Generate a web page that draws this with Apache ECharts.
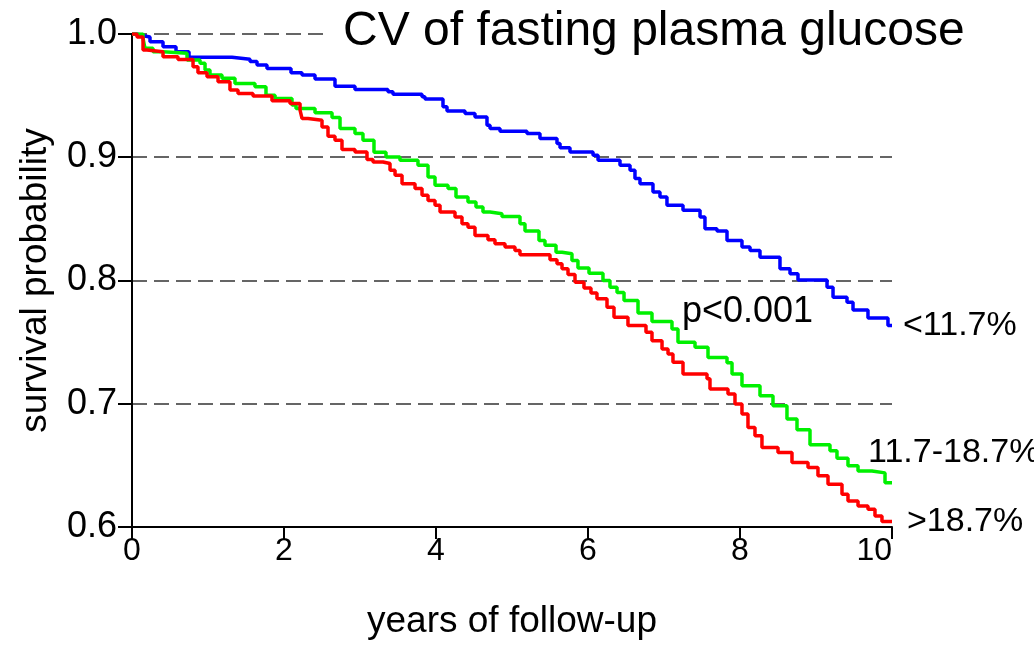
<!DOCTYPE html>
<html>
<head>
<meta charset="utf-8">
<script src="https://cdn.jsdelivr.net/npm/echarts@6/dist/echarts.min.js"></script>
<style>
  html, body { margin: 0; padding: 0; background: #fff; }
  #chart { width: 1034px; height: 645px; }
</style>
</head>
<body>
<div id="chart"></div>
<script>
// ---- data ----
const xTicks = [0, 2, 4, 6, 8, 10];
const yTicks = [0.6, 0.7, 0.8, 0.9, 1.0];
const groupNames = ['<11.7%', '11.7-18.7%', '>18.7%'];
const titleText = 'CV of fasting plasma glucose';
const pText = 'p<0.001';
const xName = 'years of follow-up';
const yName = 'survival probability';

const timeLow = [0, 0.066, 0.132, 0.237, 0.408, 0.579, 0.750, 1.316, 1.553, 1.645, 1.776, 2.092, 2.237, 2.408, 2.671, 2.934, 3.368, 3.434, 3.816, 3.855, 4.092, 4.145, 4.382, 4.513, 4.671, 4.711, 4.842, 5.197, 5.368, 5.592, 5.632, 5.763, 6.066, 6.132, 6.421, 6.553, 6.618, 6.684, 6.855, 6.947, 7.039, 7.250, 7.474, 7.539, 7.697, 7.829, 8.026, 8.132, 8.263, 8.526, 8.658, 8.763, 9.145, 9.224, 9.408, 9.487, 9.684, 9.947, 10.0];
const survLow = [1.000, 0.9988, 0.9976, 0.9938, 0.9897, 0.9856, 0.9811, 0.9795, 0.9776, 0.9748, 0.9721, 0.9685, 0.9667, 0.9634, 0.9577, 0.9550, 0.9531, 0.9512, 0.9490, 0.9472, 0.9409, 0.9376, 0.9355, 0.9327, 0.9260, 0.9233, 0.9211, 0.9192, 0.9152, 0.9111, 0.9078, 0.9043, 0.9016, 0.8976, 0.8935, 0.8894, 0.8827, 0.8786, 0.8718, 0.8677, 0.8610, 0.8569, 0.8515, 0.8420, 0.8401, 0.8325, 0.8271, 0.8244, 0.8189, 0.8095, 0.8054, 0.8005, 0.7945, 0.7864, 0.7823, 0.7761, 0.7696, 0.7634, 0.7634];

const timeMid = [0, 0.145, 0.171, 0.276, 0.408, 0.724, 0.895, 0.961, 1.026, 1.184, 1.355, 1.618, 1.763, 1.882, 2.105, 2.158, 2.408, 2.632, 2.737, 2.934, 3.039, 3.184, 3.342, 3.526, 3.763, 3.895, 3.987, 4.158, 4.263, 4.421, 4.526, 4.618, 4.711, 4.868, 5.105, 5.171, 5.355, 5.434, 5.579, 5.658, 5.789, 5.868, 6.013, 6.197, 6.289, 6.382, 6.474, 6.658, 6.842, 7.105, 7.184, 7.408, 7.579, 7.829, 7.895, 8.026, 8.263, 8.434, 8.618, 8.750, 8.921, 9.184, 9.276, 9.421, 9.553, 9.737, 9.908, 10.0];
const survMid = [1.000, 0.9965, 0.9884, 0.9856, 0.9843, 0.9789, 0.9762, 0.9707, 0.9667, 0.9640, 0.9599, 0.9572, 0.9504, 0.9477, 0.9423, 0.9396, 0.9362, 0.9323, 0.9233, 0.9193, 0.9138, 0.9041, 0.9002, 0.8976, 0.8935, 0.8840, 0.8772, 0.8746, 0.8677, 0.8637, 0.8596, 0.8555, 0.8542, 0.8520, 0.8461, 0.8401, 0.8325, 0.8285, 0.8230, 0.8217, 0.8163, 0.8102, 0.8059, 0.8000, 0.7946, 0.7902, 0.7837, 0.7736, 0.7667, 0.7607, 0.7498, 0.7458, 0.7376, 0.7333, 0.7241, 0.7146, 0.7065, 0.6984, 0.6876, 0.6789, 0.6667, 0.6618, 0.6557, 0.6496, 0.6455, 0.6439, 0.6360, 0.6360];

const timeHigh = [0, 0.066, 0.145, 0.197, 0.408, 0.605, 0.803, 0.868, 0.987, 1.132, 1.289, 1.395, 1.592, 1.842, 2.079, 2.211, 2.237, 2.316, 2.500, 2.579, 2.671, 2.763, 2.934, 3.092, 3.171, 3.303, 3.395, 3.461, 3.553, 3.724, 3.816, 3.895, 3.987, 4.053, 4.250, 4.342, 4.421, 4.513, 4.684, 4.776, 4.908, 5.039, 5.105, 5.500, 5.592, 5.658, 5.737, 5.829, 5.947, 6.039, 6.118, 6.250, 6.342, 6.526, 6.763, 6.842, 6.974, 7.053, 7.118, 7.250, 7.566, 7.605, 7.842, 7.934, 8.026, 8.105, 8.197, 8.289, 8.500, 8.684, 8.895, 9.026, 9.158, 9.342, 9.421, 9.553, 9.684, 9.776, 9.868, 10.0];
const survHigh = [1.000, 0.9976, 0.9870, 0.9856, 0.9815, 0.9794, 0.9734, 0.9685, 0.9653, 0.9612, 0.9545, 0.9518, 0.9496, 0.9458, 0.9437, 0.9382, 0.9315, 0.9301, 0.9246, 0.9171, 0.9138, 0.9063, 0.9043, 0.8981, 0.8962, 0.8949, 0.8894, 0.8854, 0.8786, 0.8746, 0.8691, 0.8650, 0.8610, 0.8555, 0.8515, 0.8461, 0.8433, 0.8366, 0.8331, 0.8298, 0.8271, 0.8244, 0.8209, 0.8168, 0.8136, 0.8095, 0.8049, 0.7986, 0.7939, 0.7898, 0.7851, 0.7783, 0.7702, 0.7634, 0.7580, 0.7512, 0.7445, 0.7404, 0.7336, 0.7241, 0.7203, 0.7120, 0.7079, 0.6998, 0.6917, 0.6807, 0.6740, 0.6645, 0.6604, 0.6523, 0.6482, 0.6415, 0.6347, 0.6266, 0.6211, 0.6171, 0.6144, 0.6089, 0.6045, 0.6045];

// ---- build ----
const FONT = '"Liberation Sans", Arial, Helvetica, sans-serif';
function pairs(t, s) { return t.map((v, i) => [v, s[i]]); }

const chart = echarts.init(document.getElementById('chart'), null, { renderer: 'canvas' });

function mkSeries(name, t, s, color, labelOffset) {
  return {
    name: name,
    type: 'line',
    step: 'end',
    showSymbol: false,
    symbol: 'none',
    data: pairs(t, s),
    lineStyle: { color: color, width: 3.5 },
    itemStyle: { color: color },
    z: 5,
    endLabel: {
      show: true,
      formatter: name,
      color: '#000',
      fontFamily: FONT,
      fontSize: 34,
      distance: 5,
      offset: labelOffset
    }
  };
}

const option = {
  animation: false,
  backgroundColor: '#fff',
  title: [{
    text: titleText,
    left: 325,
    top: 5,
    padding: [2, 18, 4, 18],
    backgroundColor: '#fff',
    textStyle: { fontFamily: FONT, fontSize: 48, fontWeight: 'normal', color: '#000', lineHeight: 50 },
    z: 10
  }, {
    text: pText,
    left: 682,
    top: 292,
    padding: 0,
    textStyle: { fontFamily: FONT, fontSize: 36, fontWeight: 'normal', color: '#000', lineHeight: 40 }
  }],
  grid: { left: 132, right: 142, top: 34, bottom: 118, containLabel: false, outerBoundsMode: 'none' },
  xAxis: {
    type: 'value',
    min: xTicks[0],
    max: xTicks[xTicks.length - 1],
    interval: xTicks[1] - xTicks[0],
    name: xName,
    nameLocation: 'middle',
    nameGap: 76,
    nameTextStyle: { fontFamily: FONT, fontSize: 37, color: '#000' },
    axisLine: { show: true, lineStyle: { color: '#000', width: 2 } },
    axisTick: { show: true, inside: false, length: 12, lineStyle: { color: '#000', width: 2 } },
    axisLabel: { fontFamily: FONT, fontSize: 32, color: '#000', margin: 8, alignMaxLabel: 'right' },
    splitLine: { show: false }
  },
  yAxis: {
    type: 'value',
    min: yTicks[0],
    max: yTicks[yTicks.length - 1],
    interval: 0.1,
    name: yName,
    nameLocation: 'middle',
    nameGap: 78,
    nameTextStyle: { fontFamily: FONT, fontSize: 37, color: '#000' },
    axisLine: { show: true, lineStyle: { color: '#000', width: 2 } },
    axisTick: { show: true, inside: false, length: 14, lineStyle: { color: '#000', width: 2 } },
    axisLabel: { fontFamily: FONT, fontSize: 36, color: '#000', margin: 15, formatter: v => v.toFixed(1) },
    splitLine: { show: true, lineStyle: { color: '#333', width: 1.5, type: [15, 7] } }
  },
  series: [
    mkSeries(groupNames[0], timeLow, survLow, '#0000ff', [6, 0]),
    mkSeries(groupNames[1], timeMid, survMid, '#00f000', [-29, -30]),
    mkSeries(groupNames[2], timeHigh, survHigh, '#ff0000', [10, 0])
  ]
};
chart.setOption(option);
</script>
</body>
</html>
